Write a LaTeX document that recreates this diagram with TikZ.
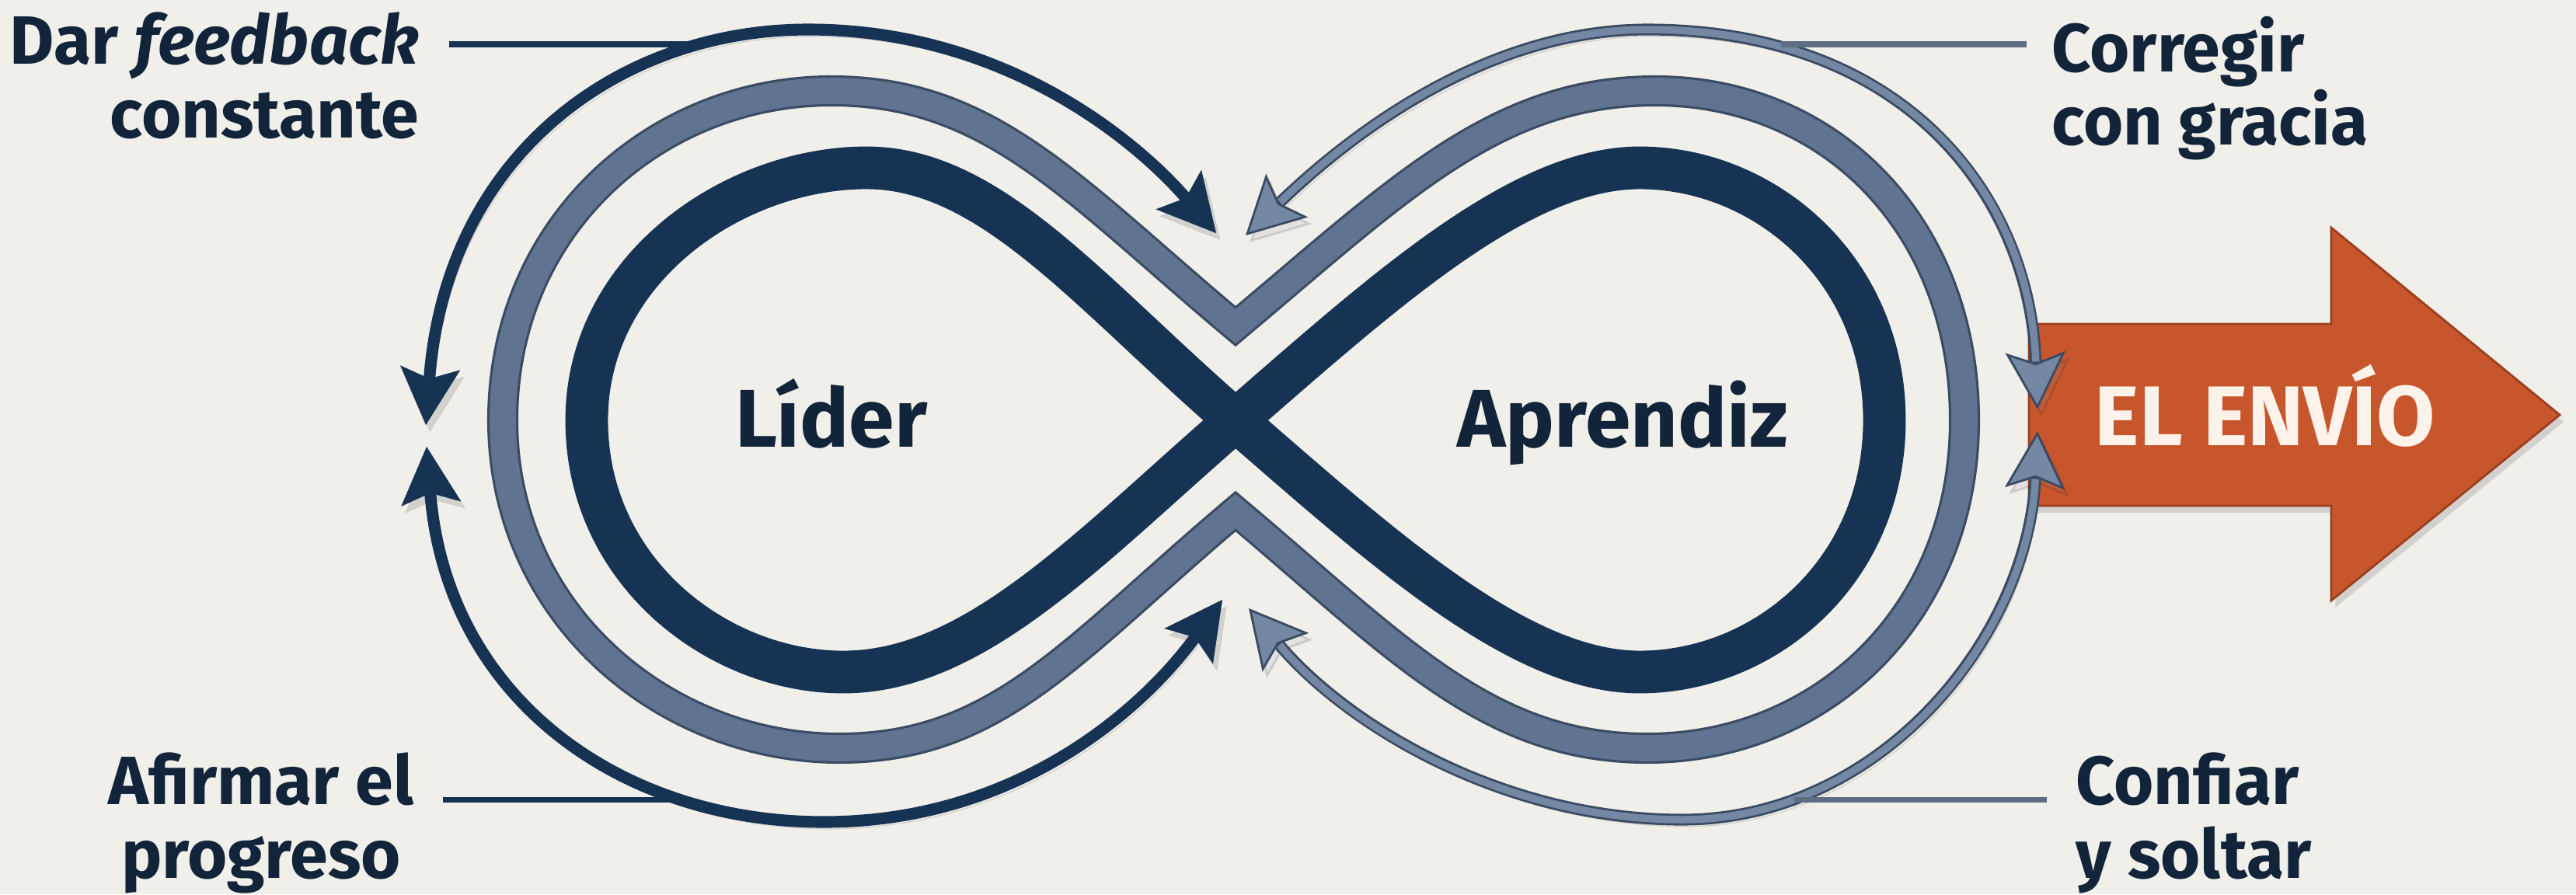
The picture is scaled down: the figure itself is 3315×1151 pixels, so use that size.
\documentclass[tikz,border=0pt]{standalone}
\usepackage{fontspec}
\setmainfont{Fira Sans}
\usetikzlibrary{arrows.meta,positioning}

\definecolor{paper}{HTML}{F0EFEA}
\definecolor{navy}{HTML}{163354}
\definecolor{ink}{HTML}{12243A}
\definecolor{slate}{HTML}{607491}
\definecolor{slateedge}{HTML}{3A4B63}
\definecolor{mist}{HTML}{7588A3}
\definecolor{rust}{HTML}{C8562C}
\definecolor{rustedge}{HTML}{9C3F1E}
\definecolor{cream}{HTML}{FDF3EA}

\tikzset{
	navytip/.tip={Stealth[length=21pt,width=22pt,inset=4pt,line width=.1pt]},
	misttip/.tip={Stealth[length=21pt,width=22pt,inset=4pt,line width=.8pt,fill=mist]},
	softshade/.style={preaction={draw=black,opacity=.12,transform canvas={shift={(1.5pt,-2.5pt)}}}},
	softfill/.style={preaction={fill=black,opacity=.12,transform canvas={shift={(1.5pt,-2.5pt)}}}},
	band/.style={draw=navy, line width=15.6pt, line join=round},
	bandedge/.style={draw=slateedge, line width=11.4pt, line join=miter},
	bandcore/.style={draw=slate, line width=9.6pt, line join=miter},
	navyarc/.style={draw=navy, line width=4.3pt, navytip-navytip},
	mistarc/.style={draw=slateedge, line width=4.3pt, misttip-misttip},
	mistcore/.style={draw=mist, line width=2.7pt, shorten <=17.5pt, shorten >=17.5pt},
	leadnavy/.style={draw=navy, line width=2pt},
	leadmist/.style={draw=mist!80!black, line width=2pt},
	sidetext/.style={font=\bfseries\fontsize{25}{27}\selectfont, text=ink, inner sep=0pt},
	lobetext/.style={font=\bfseries\fontsize{30}{34}\selectfont, text=ink, inner sep=0pt, anchor=base}
}

\begin{document}
\begin{tikzpicture}[x=0.01cm,y=-0.01cm]
	\fill[paper] (0,0) rectangle (3315,1151);
	\useasboundingbox (0,0) rectangle (3315,1151);

	%%% el envio
	\draw[draw=rustedge, fill=rust, line width=.8pt, line join=miter, softfill]
		(2611,417) -- (3000,417) -- (3000,293) -- (3294,534) -- (3000,773) -- (3000,651) -- (2611,651) -- cycle;
	\node[font=\bfseries\fontsize{31}{34}\selectfont, text=cream, inner sep=0pt, anchor=base] (envio) at (2915,573) {EL ENVÍO};

	%%% infinity loop
	\draw[band, softshade] (1590,541) .. controls (1779,377) and (1955,216) .. (2110,216)
		.. controls (2270,216) and (2425,345) .. (2425,541)
		.. controls (2425,737) and (2270,865) .. (2110,865)
		.. controls (1955,865) and (1779,705) .. (1590,541)
		.. controls (1401,377) and (1275,216) .. (1115,216)
		.. controls (945,216) and (755,345) .. (755,541)
		.. controls (755,737) and (925,865) .. (1085,865)
		.. controls (1255,865) and (1401,705) .. cycle;

	%%% middle band
	\draw[bandedge, softshade] (1590,420) .. controls (1800,244) and (1925,117) .. (2130,117)
		.. controls (2355,117) and (2528,290) .. (2528,541)
		.. controls (2528,790) and (2345,963) .. (2120,963)
		.. controls (1915,963) and (1800,835) .. (1590,658)
		.. controls (1380,835) and (1285,963) .. (1080,963)
		.. controls (855,963) and (647,790) .. (647,541)
		.. controls (647,290) and (845,117) .. (1070,117)
		.. controls (1275,117) and (1380,244) .. cycle;
	\draw[bandcore] (1590,420) .. controls (1800,244) and (1925,117) .. (2130,117)
		.. controls (2355,117) and (2528,290) .. (2528,541)
		.. controls (2528,790) and (2345,963) .. (2120,963)
		.. controls (1915,963) and (1800,835) .. (1590,658)
		.. controls (1380,835) and (1285,963) .. (1080,963)
		.. controls (855,963) and (647,790) .. (647,541)
		.. controls (647,290) and (845,117) .. (1070,117)
		.. controls (1275,117) and (1380,244) .. cycle;

	%%% outer arcs, leader
	\draw[navyarc, softshade] (548,547) .. controls (575,196) and (800,38) .. (1040,38)
		.. controls (1300,38) and (1470,190) .. (1565,300);
	\draw[navyarc, softshade] (549,575) .. controls (575,900) and (800,1058) .. (1060,1058)
		.. controls (1320,1058) and (1480,900) .. (1573,772);
	%%% outer arcs, learner
	\draw[mistarc, softshade] (1603,303) .. controls (1720,190) and (1900,38) .. (2120,38)
		.. controls (2450,38) and (2612,250) .. (2622,527);
	\draw[mistcore] (1603,303) .. controls (1720,190) and (1900,38) .. (2120,38)
		.. controls (2450,38) and (2612,250) .. (2622,527);
	\draw[mistarc, softshade] (1607,783) .. controls (1730,930) and (1930,1055) .. (2165,1055)
		.. controls (2420,1055) and (2610,820) .. (2622,555);
	\draw[mistcore] (1607,783) .. controls (1730,930) and (1930,1055) .. (2165,1055)
		.. controls (2420,1055) and (2610,820) .. (2622,555);

	%%% lobes
	\node[lobetext] (lider) at (1070,575) {Líder};
	\node[lobetext] (aprendiz) at (2088,575) {Aprendiz};

	%%% side labels
	\node[sidetext, anchor=north east, align=right] (feedback) at (540,15) {Dar \textit{feedback}\\constante};
	\node[sidetext, anchor=north west, align=left] (corregir) at (2640,20) {Corregir\\con gracia};
	\node[sidetext, anchor=north, align=center] (afirmar) at (336,968) {Afirmar el\\progreso};
	\node[sidetext, anchor=north west, align=left] (confiar) at (2671,968) {Confiar\\y soltar};

	\coordinate (fbjoin) at (899,57);
	\coordinate (crjoin) at (2292,57);
	\coordinate (afjoin) at (870,1029);
	\coordinate (cfjoin) at (2309,1029);
	\draw[leadnavy, shorten >=.38cm] (fbjoin) -- (fbjoin -| feedback.east);
	\draw[leadmist, shorten >=.32cm] (crjoin) -- (crjoin -| corregir.west);
	\draw[leadnavy, shorten >=.37cm] (afjoin) -- (afjoin -| afirmar.east);
	\draw[leadmist, shorten >=.37cm] (cfjoin) -- (cfjoin -| confiar.west);
\end{tikzpicture}
\end{document}
